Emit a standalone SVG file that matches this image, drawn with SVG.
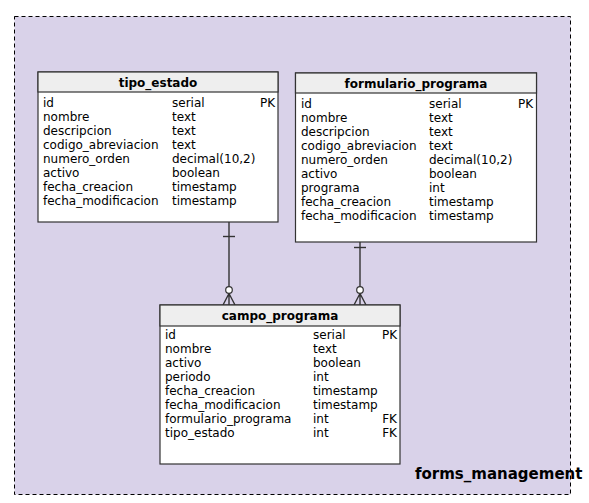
<svg xmlns="http://www.w3.org/2000/svg" width="589" height="503" viewBox="0 0 589 503">
<style>
.t{font-family:"DejaVu Sans",sans-serif;font-size:12px;fill:#000}
.h{font-family:"DejaVu Sans",sans-serif;font-size:12px;font-weight:bold;fill:#000;text-anchor:middle}
.r{text-anchor:end}
.box{fill:#fff;stroke:#333;stroke-width:1.2}
.hd{fill:#eeeeee;stroke:#333;stroke-width:1.2}
.ln{stroke:#333;stroke-width:1.4;fill:none}
.c{fill:#fff;stroke:#333;stroke-width:1.2}
</style>
<rect x="0" y="0" width="589" height="503" fill="#fff"/>
<g id="forms_management">
<rect x="14.5" y="16.5" width="556" height="478" fill="#d9d2e9" stroke="#000" stroke-width="1" stroke-dasharray="4,3"/>
<text x="415" y="479" style="font-family:'DejaVu Sans',sans-serif;font-size:15px;font-weight:bold">forms_management</text>
</g>
<g id="connectors">
<line class="ln" x1="229" y1="222" x2="229" y2="287"/>
<line class="ln" x1="223" y1="236.5" x2="235" y2="236.5"/>
<circle class="c" cx="229" cy="290" r="3.3"/>
<path class="ln" d="M229,293.5 L223,305 M229,293.5 L229,305 M229,293.5 L235,305"/>
<line class="ln" x1="360" y1="242" x2="360" y2="287"/>
<line class="ln" x1="354" y1="247.5" x2="366" y2="247.5"/>
<circle class="c" cx="360" cy="290" r="3.3"/>
<path class="ln" d="M360,293.5 L354,305 M360,293.5 L360,305 M360,293.5 L366,305"/>
</g>
<g id="tipo_estado">
<rect class="box" x="38" y="72" width="240" height="150"/>
<rect class="hd" x="38" y="72" width="240" height="20"/>
<text class="h" x="158" y="87">tipo_estado</text>
<text class="t" x="43" y="107">id</text><text class="t" x="172" y="107">serial</text><text class="t r" x="275" y="107">PK</text>
<text class="t" x="43" y="121">nombre</text><text class="t" x="172" y="121">text</text>
<text class="t" x="43" y="135">descripcion</text><text class="t" x="172" y="135">text</text>
<text class="t" x="43" y="149">codigo_abreviacion</text><text class="t" x="172" y="149">text</text>
<text class="t" x="43" y="163">numero_orden</text><text class="t" x="172" y="163">decimal(10,2)</text>
<text class="t" x="43" y="177">activo</text><text class="t" x="172" y="177">boolean</text>
<text class="t" x="43" y="191">fecha_creacion</text><text class="t" x="172" y="191">timestamp</text>
<text class="t" x="43" y="205">fecha_modificacion</text><text class="t" x="172" y="205">timestamp</text>
</g>
<g id="formulario_programa">
<rect class="box" x="295.5" y="73" width="241" height="169"/>
<rect class="hd" x="295.5" y="73" width="241" height="20"/>
<text class="h" x="416" y="88">formulario_programa</text>
<text class="t" x="301" y="108">id</text><text class="t" x="429" y="108">serial</text><text class="t r" x="533" y="108">PK</text>
<text class="t" x="301" y="122">nombre</text><text class="t" x="429" y="122">text</text>
<text class="t" x="301" y="136">descripcion</text><text class="t" x="429" y="136">text</text>
<text class="t" x="301" y="150">codigo_abreviacion</text><text class="t" x="429" y="150">text</text>
<text class="t" x="301" y="164">numero_orden</text><text class="t" x="429" y="164">decimal(10,2)</text>
<text class="t" x="301" y="178">activo</text><text class="t" x="429" y="178">boolean</text>
<text class="t" x="301" y="192">programa</text><text class="t" x="429" y="192">int</text>
<text class="t" x="301" y="206">fecha_creacion</text><text class="t" x="429" y="206">timestamp</text>
<text class="t" x="301" y="220">fecha_modificacion</text><text class="t" x="429" y="220">timestamp</text>
</g>
<g id="campo_programa">
<rect class="box" x="160" y="305" width="240" height="159"/>
<rect class="hd" x="160" y="305" width="240" height="21"/>
<text class="h" x="280" y="320">campo_programa</text>
<text class="t" x="165" y="339">id</text><text class="t" x="313" y="339">serial</text><text class="t r" x="397" y="339">PK</text>
<text class="t" x="165" y="353">nombre</text><text class="t" x="313" y="353">text</text>
<text class="t" x="165" y="367">activo</text><text class="t" x="313" y="367">boolean</text>
<text class="t" x="165" y="381">periodo</text><text class="t" x="313" y="381">int</text>
<text class="t" x="165" y="395">fecha_creacion</text><text class="t" x="313" y="395">timestamp</text>
<text class="t" x="165" y="409">fecha_modificacion</text><text class="t" x="313" y="409">timestamp</text>
<text class="t" x="165" y="423">formulario_programa</text><text class="t" x="313" y="423">int</text><text class="t r" x="397" y="423">FK</text>
<text class="t" x="165" y="437">tipo_estado</text><text class="t" x="313" y="437">int</text><text class="t r" x="397" y="437">FK</text>
</g>
</svg>
